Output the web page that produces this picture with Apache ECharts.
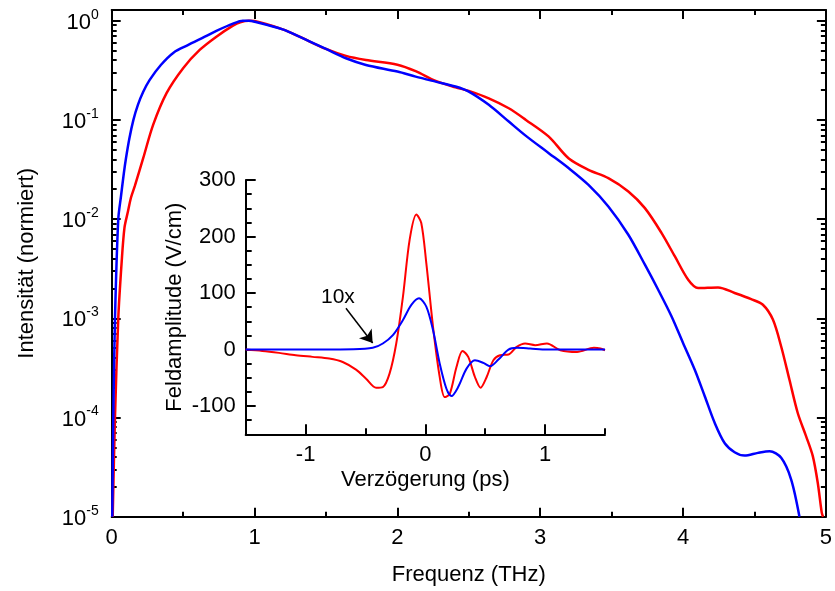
<!DOCTYPE html>
<html>
<head>
<meta charset="utf-8">
<script src="https://cdn.jsdelivr.net/npm/echarts@6/dist/echarts.min.js"></script>
<style>html,body{margin:0;padding:0;background:#fff}#c{width:835px;height:591px}</style>
</head>
<body>
<div id="c"></div>
<script>
// ---- main spectrum (frequency in THz, normalized intensity) ----
const freqRed = [0.007,0.023,0.046,0.0698,0.0893,0.1137,0.1347,0.1626,0.2205,0.29,0.384,0.50,0.616,0.733,0.849,0.9,0.96,1.0,1.197,1.314,1.5,1.64,1.78,2.0,2.128,2.268,2.407,2.5,2.64,2.78,2.9,3.06,3.198,3.338,3.477,3.617,3.733,3.85,3.943,4.036,4.105,4.245,4.361,4.477,4.559,4.629,4.687,4.745,4.803,4.861,4.908,4.943,4.971,4.98];
const intRed = [1.0e-5,1.0e-4,1.0e-3,0.0037,0.00817,0.0119,0.0164,0.0217,0.0411,0.089,0.186,0.332,0.507,0.69,0.891,0.965,1.0,0.993,0.818,0.69,0.519,0.442,0.402,0.36,0.31,0.247,0.213,0.196,0.165,0.131,0.1,0.0679,0.0411,0.0314,0.0259,0.019,0.0129,0.00723,0.0042,0.00245,0.00202,0.00205,0.0018,0.00156,0.00137,0.00097,0.00052,0.00024,0.000111,6.5e-5,4.1e-5,2.2e-5,1.1e-5,1.0e-5];
const freqBlue = [0.004,0.011,0.023,0.046,0.065,0.085,0.10,0.124,0.152,0.1835,0.22,0.266,0.344,0.435,0.53,0.652,0.733,0.849,0.918,0.96,1.0,1.197,1.314,1.5,1.64,1.78,2.0,2.128,2.268,2.407,2.5,2.64,2.78,2.9,3.06,3.198,3.338,3.477,3.617,3.733,3.826,3.919,4.0,4.082,4.152,4.222,4.292,4.361,4.431,4.524,4.606,4.687,4.757,4.815];
const intBlue = [1.0e-5,1.0e-4,1.0e-3,1.0e-2,0.017,0.029,0.0411,0.0654,0.1,0.1416,0.191,0.253,0.358,0.479,0.565,0.69,0.79,0.935,1.0,0.997,0.977,0.818,0.69,0.519,0.418,0.358,0.307,0.273,0.243,0.217,0.193,0.142,0.0962,0.069,0.0462,0.0327,0.0221,0.0134,0.00695,0.00347,0.00194,0.00105,0.000564,0.000303,0.000164,8.8e-5,5.5e-5,4.47e-5,4.13e-5,4.4e-5,4.57e-5,3.92e-5,2.37e-5,1.0e-5];

// ---- inset: field transients (delay in ps, field in V/cm) ----
const timeRed = [-1.5,-1.362,-1.222,-1.082,-0.942,-0.803,-0.69,-0.579,-0.495,-0.411,-0.355,-0.299,-0.243,-0.187,-0.131,-0.075,-0.034,0.008,0.064,0.12,0.162,0.204,0.26,0.31,0.358,0.414,0.461,0.512,0.568,0.624,0.694,0.763,0.833,0.917,1.015,1.127,1.267,1.407,1.462,1.5];
const fieldRed = [0,-2.4,-5.9,-10,-13,-16,-22,-35.6,-51.6,-67.6,-66.4,-42.7,10.7,93.7,194.5,239,224,153,40.3,-48.6,-84.2,-78.3,-30.8,-2.4,-13,-48.6,-67.6,-48.6,-19,-10,-8.9,4.7,10.7,7.7,10.7,-1.2,-4.2,3,1.8,-1.2];
const timeBlue = [-1.5,-1.0,-0.6,-0.439,-0.355,-0.271,-0.187,-0.117,-0.053,0.008,0.064,0.12,0.176,0.218,0.274,0.344,0.414,0.484,0.54,0.61,0.694,0.763,0.875,1.015,1.5];
const fieldBlue = [0,0,0.5,3,10.7,25.5,52.2,79,90.7,75.9,34.4,-24.9,-69.4,-82.4,-66.4,-33.8,-19,-23.7,-29.7,-17.8,0,3,1.8,0,0];

// tick labels
const insetXLabels = [-1,0,1];
const insetXMinor = [-0.5,0.5,1.5];
const insetYLabels = [-100,0,100,200,300];
const insetYMinor = [-150,-125,-75,-50,-25,25,50,75,125,150,175,225,250,275];

const yMaxMain = 1.282;
const logMin = -5, logMax = Math.log10(yMaxMain);
const logMinor = [];
for (let e = -5; e < 0; e++) for (let k = 2; k <= 9; k++) logMinor.push(Math.log10(k * Math.pow(10, e)));
const logMajor = [-5,-4,-3,-2,-1,0];

const zip = (a, b) => a.map((v, i) => [v, b[i]]);
const black = '#000';
const FONT = 'Liberation Sans, Arial, sans-serif';
const tickStyle = {color: black, width: 2};

const chart = echarts.init(document.getElementById('c'));
const G0 = {left: 111.7, top: 10, right: 6.7, bottom: 74.3};
const G1 = {left: 245.7, top: 180, width: 359.3, height: 254.3};

function decoY(grid, pos, values, len, line) {
  return {
    gridIndex: grid, type: 'value', position: pos, min: logMin, max: logMax,
    axisLine: {show: line, onZero: false, lineStyle: tickStyle},
    axisTick: {show: true, inside: true, length: len, lineStyle: tickStyle, customValues: values},
    axisLabel: {show: false}, splitLine: {show: false}
  };
}

chart.setOption({
  animation: false,
  backgroundColor: '#fff',
  textStyle: {fontFamily: FONT},
  grid: [
    Object.assign({containLabel: false}, G0),
    Object.assign({containLabel: false}, G1)
  ],
  xAxis: [
    {
      gridIndex: 0, type: 'value', position: 'bottom', min: 0, max: 5, interval: 1,
      name: 'Frequenz (THz)', nameLocation: 'middle', nameGap: 47,
      nameTextStyle: {fontSize: 22, color: black, fontFamily: FONT},
      axisLine: {onZero: false, lineStyle: tickStyle},
      axisTick: {inside: true, length: 9, lineStyle: tickStyle},
      minorTick: {show: true, splitNumber: 2, length: 5, lineStyle: tickStyle},
      axisLabel: {fontSize: 22, color: black, margin: 10, fontFamily: FONT},
      splitLine: {show: false}
    },
    {
      gridIndex: 0, type: 'value', position: 'top', min: 0, max: 5, interval: 1,
      axisLine: {onZero: false, lineStyle: tickStyle},
      axisTick: {inside: true, length: 9, lineStyle: tickStyle},
      minorTick: {show: true, splitNumber: 2, length: 5, lineStyle: tickStyle},
      axisLabel: {show: false}, splitLine: {show: false}
    },
    {
      gridIndex: 1, type: 'value', position: 'bottom', min: -1.5, max: 1.5,
      name: 'Verzögerung (ps)', nameLocation: 'middle', nameGap: 35,
      nameTextStyle: {fontSize: 22, color: black, fontFamily: FONT},
      axisLine: {onZero: false, lineStyle: tickStyle},
      axisTick: {inside: true, length: 10, lineStyle: tickStyle, customValues: insetXLabels},
      axisLabel: {fontSize: 22, color: black, margin: 10, fontFamily: FONT, customValues: insetXLabels},
      splitLine: {show: false}
    },
    {
      gridIndex: 1, type: 'value', position: 'bottom', min: -1.5, max: 1.5,
      axisLine: {show: false, onZero: false},
      axisTick: {inside: true, length: 6, lineStyle: tickStyle, customValues: insetXMinor},
      axisLabel: {show: false}, splitLine: {show: false}
    }
  ],
  yAxis: [
    {
      gridIndex: 0, type: 'log', position: 'left', min: 1e-5, max: yMaxMain, interval: 1, logBase: 10,
      name: 'Intensität (normiert)', nameLocation: 'middle', nameGap: 74, nameRotate: 90,
      nameTextStyle: {fontSize: 22, color: black, fontFamily: FONT},
      axisLine: {onZero: false, lineStyle: tickStyle},
      axisTick: {show: false},
      axisLabel: {
        margin: 13, color: black,
        formatter: function (v) {
          const l = Math.log10(v), e = Math.round(l);
          if (Math.abs(l - e) > 1e-6) return '';
          return '{b|10}{s|' + e + '}';
        },
        rich: {
          b: {fontSize: 22, fontFamily: FONT, color: black, lineHeight: 26, verticalAlign: 'bottom'},
          s: {fontSize: 14, fontFamily: FONT, color: black, lineHeight: 14, verticalAlign: 'top'}
        }
      },
      splitLine: {show: false}
    },
    decoY(0, 'left', logMajor, 9, false),
    decoY(0, 'left', logMinor, 5, false),
    decoY(0, 'right', logMajor, 9, true),
    decoY(0, 'right', logMinor, 5, false),
    {
      gridIndex: 1, type: 'value', position: 'left', min: -150, max: 300,
      name: 'Feldamplitude (V/cm)', nameLocation: 'middle', nameGap: 60, nameRotate: 90,
      nameTextStyle: {fontSize: 22, color: black, fontFamily: FONT},
      axisLine: {onZero: false, lineStyle: tickStyle},
      axisTick: {inside: true, length: 10, lineStyle: tickStyle, customValues: insetYLabels},
      axisLabel: {fontSize: 22, color: black, margin: 10, fontFamily: FONT, customValues: insetYLabels},
      splitLine: {show: false}
    },
    {
      gridIndex: 1, type: 'value', position: 'left', min: -150, max: 300,
      axisLine: {show: false, onZero: false},
      axisTick: {inside: true, length: 6, lineStyle: tickStyle, customValues: insetYMinor},
      axisLabel: {show: false}, splitLine: {show: false}
    }
  ],
  series: [
    {
      type: 'line', xAxisIndex: 0, yAxisIndex: 0, data: zip(freqRed, intRed),
      smooth: 0.3, showSymbol: false, lineStyle: {color: '#ff0000', width: 2.5}, z: 3
    },
    {
      type: 'line', xAxisIndex: 0, yAxisIndex: 0, data: zip(freqBlue, intBlue),
      smooth: 0.3, showSymbol: false, lineStyle: {color: '#0000ff', width: 2.5}, z: 4
    },
    {
      type: 'line', xAxisIndex: 2, yAxisIndex: 5, data: zip(timeRed, fieldRed),
      smooth: 0.3, showSymbol: false, lineStyle: {color: '#ff0000', width: 2}, z: 5
    },
    {
      type: 'line', xAxisIndex: 2, yAxisIndex: 5, data: zip(timeBlue, fieldBlue),
      smooth: 0.3, showSymbol: false, lineStyle: {color: '#0000ff', width: 2}, z: 6,
      markLine: {
        silent: true, symbol: ['none', 'arrow'], symbolSize: 12,
        lineStyle: {color: black, width: 1.5, type: 'solid'},
        itemStyle: {color: black},
        label: {show: false},
        data: [[{coord: [-0.663, 73]}, {coord: [-0.44, 11.7]}]]
      }
    }
  ],
  graphic: [
    {type: 'text', left: 321, top: 287, style: {text: '10x', fontSize: 21, fontFamily: FONT, fill: black}}
  ]
});
</script>
</body>
</html>
